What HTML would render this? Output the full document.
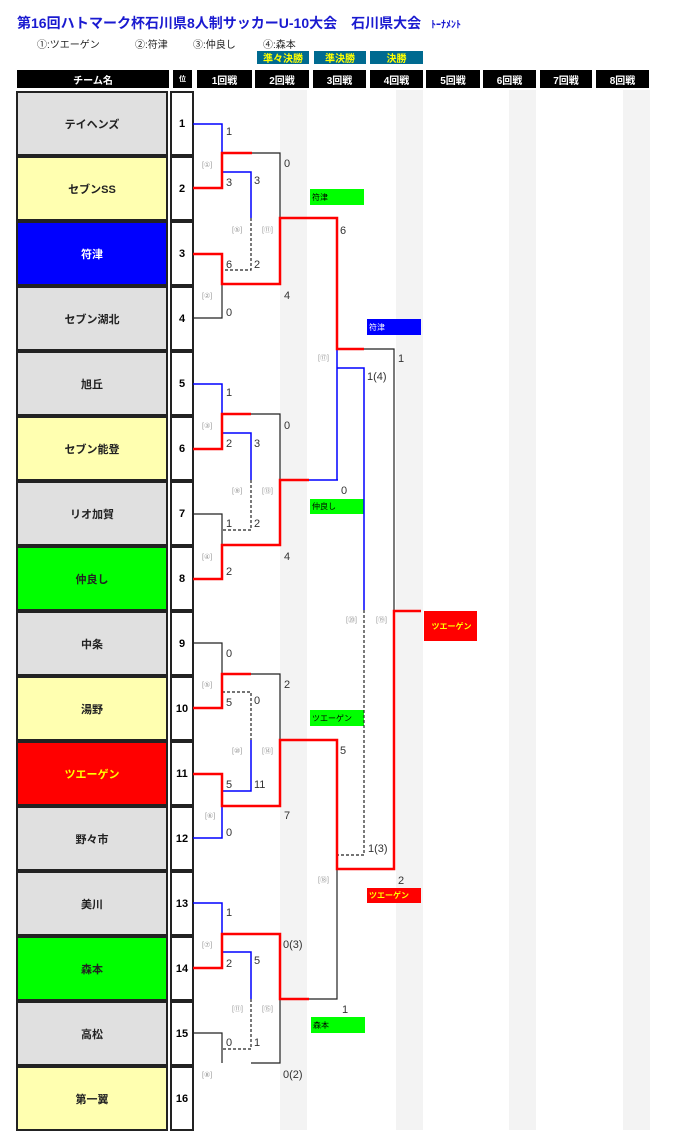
<!DOCTYPE html>
<html><head><meta charset="utf-8"><style>
body{margin:0;background:#fff;width:700px;height:1143px;overflow:hidden;position:relative;font-family:"Liberation Sans","Noto Sans CJK JP",sans-serif}
.a{position:absolute}
.t{position:absolute;left:16px;width:148px;height:61px;border:2px solid #222;display:flex;align-items:center;justify-content:center;font-size:11px;font-weight:bold;color:#222}
.r{position:absolute;left:170px;width:20px;height:61px;border:2px solid #222;background:#fff;display:flex;align-items:center;justify-content:center;font-size:11px;font-weight:bold}
.h{position:absolute;top:70px;height:18px;background:#000;color:#fff;font-size:10px;font-weight:bold;display:flex;align-items:center;justify-content:center}
.k{position:absolute;top:51px;height:13px;background:#006a90;color:#ff0;font-size:10px;font-weight:bold;display:flex;align-items:center;justify-content:center}
.g{position:absolute;top:90px;height:1040px;width:27px;background:#f3f3f3}
.w{position:absolute;font-size:8px;display:flex;align-items:center;padding-left:2px;box-sizing:border-box}
</style></head><body>
<div class="g" style="left:280px"></div><div class="g" style="left:396px"></div><div class="g" style="left:509px"></div><div class="g" style="left:623px"></div>
<div class="a" style="left:17px;top:13px;font-size:14px;font-weight:bold;color:#1a1ad0;white-space:nowrap">第16回ハトマーク杯石川県8人制サッカーU-10大会　石川県大会 <span style="font-size:10px;margin-left:6px">ﾄｰﾅﾒﾝﾄ</span></div>
<div class="a" style="left:37px;top:36px;font-size:10px;color:#222">①:ツエーゲン</div>
<div class="a" style="left:135px;top:36px;font-size:10px;color:#222">②:符津</div>
<div class="a" style="left:193px;top:36px;font-size:10px;color:#222">③:仲良し</div>
<div class="a" style="left:263px;top:36px;font-size:10px;color:#222">④:森本</div>
<div class="k" style="left:257px;width:52px">準々決勝</div>
<div class="k" style="left:314px;width:52px">準決勝</div>
<div class="k" style="left:370px;width:53px">決勝</div>
<div class="h" style="left:17px;width:152px">チーム名</div>
<div class="h" style="left:173px;width:19px;font-size:7px">位</div>
<div class="h" style="left:197px;width:55px">1回戦</div>
<div class="h" style="left:255px;width:54px">2回戦</div>
<div class="h" style="left:313px;width:53px">3回戦</div>
<div class="h" style="left:370px;width:53px">4回戦</div>
<div class="h" style="left:426px;width:54px">5回戦</div>
<div class="h" style="left:483px;width:53px">6回戦</div>
<div class="h" style="left:540px;width:52px">7回戦</div>
<div class="h" style="left:596px;width:53px">8回戦</div>

<div class="t" style="top:91px;background:#e0e0e0">テイヘンズ</div><div class="r" style="top:91px">1</div>
<div class="t" style="top:156px;background:#ffffb0">セブンSS</div><div class="r" style="top:156px">2</div>
<div class="t" style="top:221px;background:#0000ff;color:#fff">符津</div><div class="r" style="top:221px">3</div>
<div class="t" style="top:286px;background:#e0e0e0">セブン湖北</div><div class="r" style="top:286px">4</div>
<div class="t" style="top:351px;background:#e0e0e0">旭丘</div><div class="r" style="top:351px">5</div>
<div class="t" style="top:416px;background:#ffffb0">セブン能登</div><div class="r" style="top:416px">6</div>
<div class="t" style="top:481px;background:#e0e0e0">リオ加賀</div><div class="r" style="top:481px">7</div>
<div class="t" style="top:546px;background:#00ff00">仲良し</div><div class="r" style="top:546px">8</div>
<div class="t" style="top:611px;background:#e0e0e0">中条</div><div class="r" style="top:611px">9</div>
<div class="t" style="top:676px;background:#ffffb0">湯野</div><div class="r" style="top:676px">10</div>
<div class="t" style="top:741px;background:#ff0000;color:#ff0">ツエーゲン</div><div class="r" style="top:741px">11</div>
<div class="t" style="top:806px;background:#e0e0e0">野々市</div><div class="r" style="top:806px">12</div>
<div class="t" style="top:871px;background:#e0e0e0">美川</div><div class="r" style="top:871px">13</div>
<div class="t" style="top:936px;background:#00ff00">森本</div><div class="r" style="top:936px">14</div>
<div class="t" style="top:1001px;background:#e0e0e0">高松</div><div class="r" style="top:1001px">15</div>
<div class="t" style="top:1066px;background:#ffffb0">第一翼</div><div class="r" style="top:1066px">16</div>

<div class="w" style="left:310px;top:189px;width:54px;height:16px;background:#00ff00">符津</div>
<div class="w" style="left:367px;top:319px;width:54px;height:16px;background:#0000ff;color:#fff">符津</div>
<div class="w" style="left:310px;top:499px;width:54px;height:15px;background:#00ff00">仲良し</div>
<div class="w" style="left:424px;top:611px;width:53px;height:30px;background:#ff0000;color:#ff0;font-weight:bold;justify-content:center">ツエーゲン</div>
<div class="w" style="left:310px;top:710px;width:54px;height:16px;background:#00ff00">ツエーゲン</div>
<div class="w" style="left:367px;top:888px;width:54px;height:15px;background:#ff0000;color:#ff0;font-weight:bold">ツエーゲン</div>
<div class="w" style="left:311px;top:1017px;width:54px;height:16px;background:#00ff00">森本</div>

<svg class="a" style="left:0;top:0" width="700" height="1143" fill="none">
<g stroke="#0000ff" stroke-width="1.5">
<path d="M193 124H222V153M222 172H251V218"/>
<path d="M193 384H222V414M222 433H251V480M309 480H338"/>
<path d="M251 740V791H222M193 838H222V806"/>
<path d="M193 903H222V934M222 952H251V999"/>
<path d="M337 349V480M337 368H364V610"/>
</g>
<g stroke="#222" stroke-width="1.2">
<path d="M252 153H280V218M193 318H222V284"/>
<path d="M251 414H280V480M193 514H222V545"/>
<path d="M193 643H222V674M251 674H280V740"/>
<path d="M193 1033H222V1063M251 1063H280V999M309 999H337V869"/>
<path d="M364 349H394V611"/>
</g>
<g stroke="#222" stroke-width="1.2" stroke-dasharray="3,2">
<path d="M251 218V270H222M251 480V530H222M222 692H251V740M251 999V1049H222M364 610V855H337"/>
</g>
<g stroke="#f00" stroke-width="2.5">
<path d="M193 188H222V153H252M193 254H222V284H280V218H337V349H364"/>
<path d="M193 449H222V414H251M193 579H222V545H280V480H309"/>
<path d="M193 708H222V674H251M193 774H222V806H280V740H337V869H394V611H421"/>
<path d="M193 968H222V934H280V999H309"/>
</g>
<g font-family="Liberation Sans,sans-serif" font-size="11" fill="#333">
<text x="226" y="135">1</text><text x="226" y="186">3</text><text x="254" y="184">3</text><text x="284" y="167">0</text>
<text x="226" y="268">6</text><text x="254" y="268">2</text><text x="284" y="299">4</text><text x="226" y="316">0</text>
<text x="340" y="234">6</text>
<text x="226" y="396">1</text><text x="226" y="447">2</text><text x="254" y="447">3</text><text x="284" y="429">0</text>
<text x="226" y="527">1</text><text x="254" y="527">2</text><text x="284" y="560">4</text><text x="226" y="575">2</text>
<text x="341" y="494">0</text><text x="398" y="362">1</text><text x="367" y="380">1(4)</text>
<text x="226" y="657">0</text><text x="226" y="706">5</text><text x="254" y="704">0</text><text x="284" y="688">2</text>
<text x="226" y="788">5</text><text x="254" y="788">11</text><text x="284" y="819">7</text><text x="226" y="836">0</text>
<text x="340" y="754">5</text><text x="368" y="852">1(3)</text><text x="398" y="884">2</text>
<text x="226" y="916">1</text><text x="226" y="967">2</text><text x="254" y="964">5</text><text x="283" y="948">0(3)</text>
<text x="226" y="1046">0</text><text x="254" y="1046">1</text><text x="283" y="1078">0(2)</text><text x="342" y="1013">1</text>
</g>
<g font-family="Liberation Sans,DejaVu Sans,sans-serif" font-size="7" fill="#999">
<text x="202" y="167">[①]</text><text x="232" y="232">[⑤]</text><text x="262" y="232">[⑪]</text><text x="202" y="298">[②]</text>
<text x="202" y="428">[③]</text><text x="232" y="493">[⑨]</text><text x="262" y="493">[⑬]</text><text x="202" y="559">[④]</text>
<text x="202" y="687">[⑤]</text><text x="232" y="753">[⑩]</text><text x="262" y="753">[⑭]</text><text x="205" y="818">[⑥]</text>
<text x="202" y="947">[⑦]</text><text x="232" y="1011">[⑪]</text><text x="262" y="1011">[⑮]</text><text x="202" y="1077">[⑧]</text>
<text x="318" y="360">[⑰]</text><text x="346" y="622">[⑳]</text><text x="376" y="622">[⑲]</text><text x="318" y="882">[⑱]</text>
</g>
</svg>
</body></html>
